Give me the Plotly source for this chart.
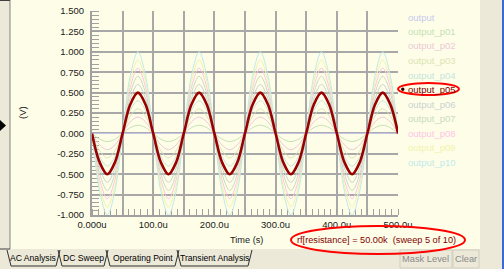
import plotly.graph_objects as go

# ---------------- data ----------------
t_us = [0, 12.5, 25, 37.5, 50, 62.5, 75, 87.5, 100,
        112.5, 125, 137.5, 150, 162.5, 175, 187.5, 200,
        212.5, 225, 237.5, 250, 262.5, 275, 287.5, 300,
        312.5, 325, 337.5, 350, 362.5, 375, 387.5, 400,
        412.5, 425, 437.5, 450, 462.5, 475, 487.5, 500]
output_p05 = [0, -0.354, -0.5, -0.354, 0, 0.354, 0.5, 0.354, 0,
              -0.354, -0.5, -0.354, 0, 0.354, 0.5, 0.354, 0,
              -0.354, -0.5, -0.354, 0, 0.354, 0.5, 0.354, 0,
              -0.354, -0.5, -0.354, 0, 0.354, 0.5, 0.354, 0,
              -0.354, -0.5, -0.354, 0, 0.354, 0.5, 0.354, 0]
series_names = ["output", "output_p01", "output_p02", "output_p03", "output_p04",
                "output_p05", "output_p06", "output_p07", "output_p08", "output_p09",
                "output_p10"]
series_peaks = [0.0, 0.1, 0.2, 0.3, 0.4, 0.5, 0.6, 0.7, 0.8, 0.9, 1.0]
series_colors = ["#c8c8f0", "#c4e2b4", "#ecc8d8", "#dce4b4", "#c4e4dc",
                 "#990000", "#c8d2d2", "#c8dcbc", "#ffc4e6", "#f2f2ac", "#bfeaea"]
selected = "output_p05"

x_tickvals = [0, 50, 100, 150, 200, 250, 300, 350, 400, 450, 500]
x_ticktext = ["0.000u", "", "100.0u", "", "200.0u", "", "300.0u", "", "400.0u", "", "500.0u"]
y_tickvals = [-1.0, -0.75, -0.5, -0.25, 0.0, 0.25, 0.5, 0.75, 1.0, 1.25, 1.5]
y_ticktext = ["-1.000", "-0.750", "-0.500", "-0.250", "0.000", "0.250", "0.500",
              "0.750", "1.000", "1.250", "1.500"]
sweep_label = "rf[resistance] = 50.00k  (sweep 5 of 10)"
tab_labels = ["AC Analysis", "DC Sweep", "Operating Point", "Transient Analysis"]

# ---------------- layout helpers ----------------
W, H = 504, 269
L, R, T, B = 92, 398, 11, 215
def X(px): return (px - L) / (R - L)
def Y(py): return (B - py) / (B - T)

YELLOW = "#fefee8"
GRAY = "#ece9d8"
FONT = "Liberation Sans"

fig = go.Figure()
ref_peak = series_peaks[series_names.index(selected)]
order = [i for i, n in enumerate(series_names) if n != selected] + [series_names.index(selected)]
for i in order:
    scale = series_peaks[i] / ref_peak
    ys = [v * scale for v in output_p05]
    sel = series_names[i] == selected
    fig.add_trace(go.Scatter(
        x=t_us, y=ys, mode="lines", name=series_names[i],
        line=dict(color=series_colors[i], width=2.6 if sel else 1, shape="spline", smoothing=1.0),
        showlegend=False, hoverinfo="skip"))

shapes = []
shapes.append(dict(type="rect", xref="paper", yref="paper", x0=X(10), x1=X(480), y0=Y(0), y1=Y(249),
                   fillcolor=YELLOW, line=dict(width=0), layer="below"))
shapes.append(dict(type="line", xref="paper", yref="paper", x0=X(10), x1=X(10), y0=Y(0), y1=Y(249),
                   line=dict(color="#808080", width=1), layer="below"))
shapes.append(dict(type="line", xref="paper", yref="paper", x0=X(0), x1=X(10), y0=Y(249), y1=Y(249),
                   line=dict(color="#404040", width=1), layer="below"))
shapes.append(dict(type="line", xref="paper", yref="paper", x0=X(0), x1=X(10), y0=Y(0.5), y1=Y(0.5),
                   line=dict(color="#404040", width=1), layer="below"))
shapes.append(dict(type="line", xref="paper", yref="paper", x0=X(503), x1=X(503), y0=Y(0), y1=Y(269),
                   line=dict(color="#3a6ad4", width=2), layer="below"))
shapes.append(dict(type="path", xref="paper", yref="paper",
                   path=f"M {X(0)},{Y(120)} L {X(6)},{Y(125.5)} L {X(0)},{Y(131)} Z",
                   fillcolor="#000000", line=dict(width=0)))
tab_edges = [(7, 60), (58, 108), (106, 179), (177, 252)]
for (a, b) in tab_edges:
    shapes.append(dict(type="path", xref="paper", yref="paper",
                       path=f"M {X(a)},{Y(250)} L {X(a+4)},{Y(266)} L {X(b-4)},{Y(266)} L {X(b)},{Y(250)}",
                       line=dict(color="#303030", width=1)))
for (a, b) in [(400, 452), (453, 479)]:
    shapes.append(dict(type="rect", xref="paper", yref="paper", x0=X(a), x1=X(b), y0=Y(250), y1=Y(268),
                       line=dict(color="#d0ccc0", width=1), fillcolor=GRAY, layer="below"))
shapes.append(dict(type="circle", xref="paper", yref="paper", x0=X(398), x1=X(459), y0=Y(83), y1=Y(95),
                   line=dict(color="#ff0000", width=2)))
shapes.append(dict(type="circle", xref="paper", yref="paper", x0=X(291), x1=X(465), y0=Y(226), y1=Y(254),
                   line=dict(color="#ff0000", width=2)))
shapes.append(dict(type="circle", xref="paper", yref="paper", x0=X(401), x1=X(404.5), y0=Y(87.5), y1=Y(91),
                   fillcolor="#300000", line=dict(width=0)))

def txt(text, px, py, size, color, xanchor="center", family=FONT, angle=0):
    return dict(text=text, x=X(px), y=Y(py), xref="paper", yref="paper",
                xanchor=xanchor, yanchor="middle", showarrow=False, textangle=angle,
                font=dict(family=family, size=size, color=color))

ann = []
for i, n in enumerate(series_names):
    ann.append(txt(n, 406, 17 + 14.5 * i, 9.5,
                   "#800000" if n == selected else series_colors[i], xanchor="left"))
ann.append(txt("(V)", 22, 113, 9.5, "#202020", angle=-90))
ann.append(txt("Time (s)", 246, 240, 9.2, "#202020"))
ann.append(txt(sweep_label, 376, 240, 9.2, "#800000"))
tab_centers = [33, 83, 143, 214]
for lab, c in zip(tab_labels, tab_centers):
    ann.append(txt(lab, c, 258, 8.6, "#000000"))
ann.append(txt("Mask Level", 426, 259, 9.3, "#8a8a8a"))
ann.append(txt("Clear", 466, 259, 9.3, "#8a8a8a"))

fig.update_layout(
    width=W, height=H,
    margin=dict(l=L, r=W - R, t=T, b=H - B, pad=0, autoexpand=False),
    paper_bgcolor=GRAY, plot_bgcolor=YELLOW,
    shapes=shapes, annotations=ann,
    font=dict(family=FONT, size=9.5, color="#202020"),
    xaxis=dict(range=[0, 500], tickvals=x_tickvals, ticktext=x_ticktext, ticks="",
               automargin=False, layer="below traces",
               showgrid=True, gridcolor="#a8a8a8", gridwidth=1.5, zeroline=False,
               showline=True, linecolor="#a0a0a0", linewidth=2,
               tickfont=dict(family=FONT, size=9.5, color="#202020"),
               minor=dict(ticks="inside", ticklen=6, dtick=10, tick0=0, tickcolor="#a0a0a0",
                          tickwidth=1, showgrid=False)),
    yaxis=dict(range=[-1.0, 1.5], tickvals=y_tickvals, ticktext=y_ticktext, ticks="",
               automargin=False, layer="below traces",
               showgrid=True, gridcolor="#a8a8a8", gridwidth=1.5, zeroline=False,
               showline=True, linecolor="#a0a0a0", linewidth=2,
               tickfont=dict(family=FONT, size=9.5, color="#202020"), ticklabelstandoff=4,
               minor=dict(ticks="inside", ticklen=7, dtick=0.05, tick0=0, tickcolor="#a0a0a0",
                          tickwidth=1, showgrid=False)),
)
fig.write_html("out.html")
